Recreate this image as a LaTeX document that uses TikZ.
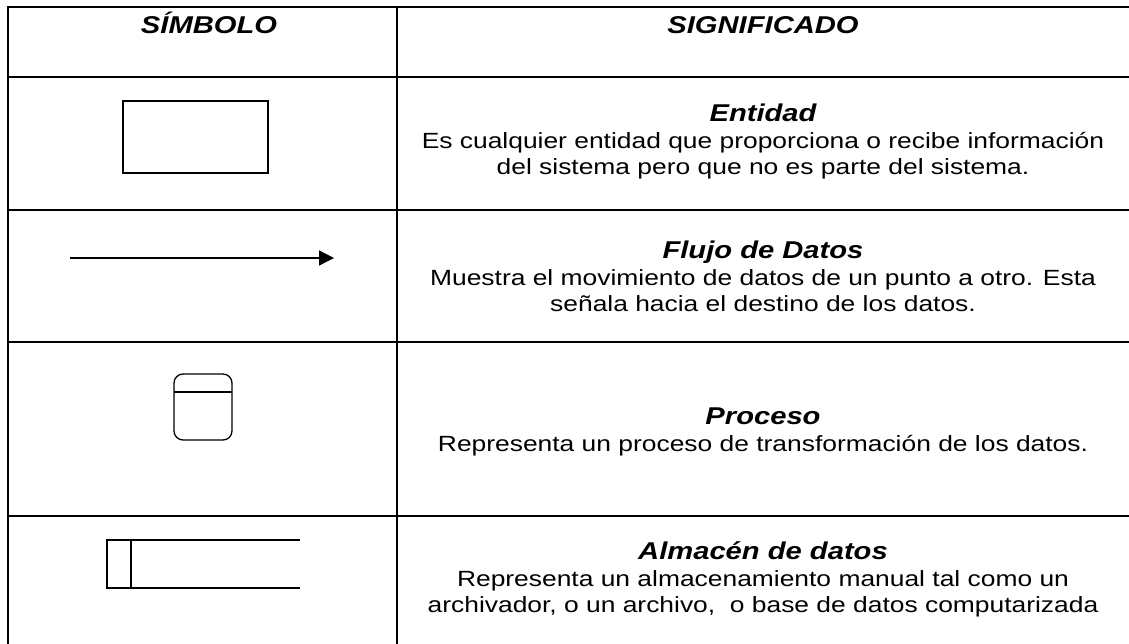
\documentclass[tikz,border=0pt]{standalone}
\usepackage{fontspec}
\setmainfont[FakeStretch=1.2]{Liberation Sans}
\usetikzlibrary{arrows.meta}
\tikzset{
  grid/.style={line width=2pt, line cap=rect},
  sym/.style={line width=1.3pt},
  head/.style={font=\fontsize{24.3}{28}\selectfont\bfseries\itshape, anchor=base, inner sep=0pt},
  ttl/.style={font=\fontsize{24.3}{28}\selectfont\bfseries\itshape, anchor=base, inner sep=0pt},
  body/.style={font=\fontsize{22}{26}\selectfont, anchor=base, inner sep=0pt},
}
\begin{document}
\begin{tikzpicture}[x=1pt,y=-1pt]
\useasboundingbox (0,0) rectangle (1129,643);
% table grid
\draw[grid] (8,643) -- (8,7) -- (1129,7);
\draw[grid] (397,7) -- (397,643);
\foreach \yy in {77,210,342,516} \draw[grid] (8,\yy) -- (1129,\yy);
% headers
\node[head] (h1) at (209,33) {SÍMBOLO};
\node[head] (h2) at (763,33) {SIGNIFICADO};
% entity
\draw[sym] (123,101) rectangle (268,173);
\node[ttl] (t1) at (763,121) {Entidad};
\node[body] (d1a) at (763,148) {Es cualquier entidad que proporciona o recibe información};
\node[body] (d1b) at (763,174) {del sistema pero que no es parte del sistema.};
% data flow
\coordinate (fa) at (70,258);
\coordinate (fb) at (334,258);
\draw[sym, -{Triangle[length=15pt,width=15pt]}] (fa) -- (fb);
\node[ttl] (t2) at (763,258) {Flujo de Datos};
\node[body] (d2a) at (763,285) {Muestra el movimiento de datos de un punto a otro. Esta};
\node[body] (d2b) at (763,311) {señala hacia el destino de los datos.};
% process
\draw[sym, rounded corners=9pt] (174,374) rectangle (232,440);
\draw[sym] (174,392) -- (232,392);
\node[ttl] (t3) at (763,424) {Proceso};
\node[body] (d3a) at (763,451) {Representa un proceso de transformación de los datos.};
% data store
\draw[sym] (300,540) -- (107,540) -- (107,588) -- (300,588);
\draw[sym] (131,540) -- (131,588);
\node[ttl] (t4) at (763,559) {Almacén de datos};
\node[body] (d4a) at (763,586) {Representa un almacenamiento manual tal como un};
\node[body] (d4b) at (763,612) {archivador, o un archivo,\ \ o base de datos computarizada};
\end{tikzpicture}
\end{document}
